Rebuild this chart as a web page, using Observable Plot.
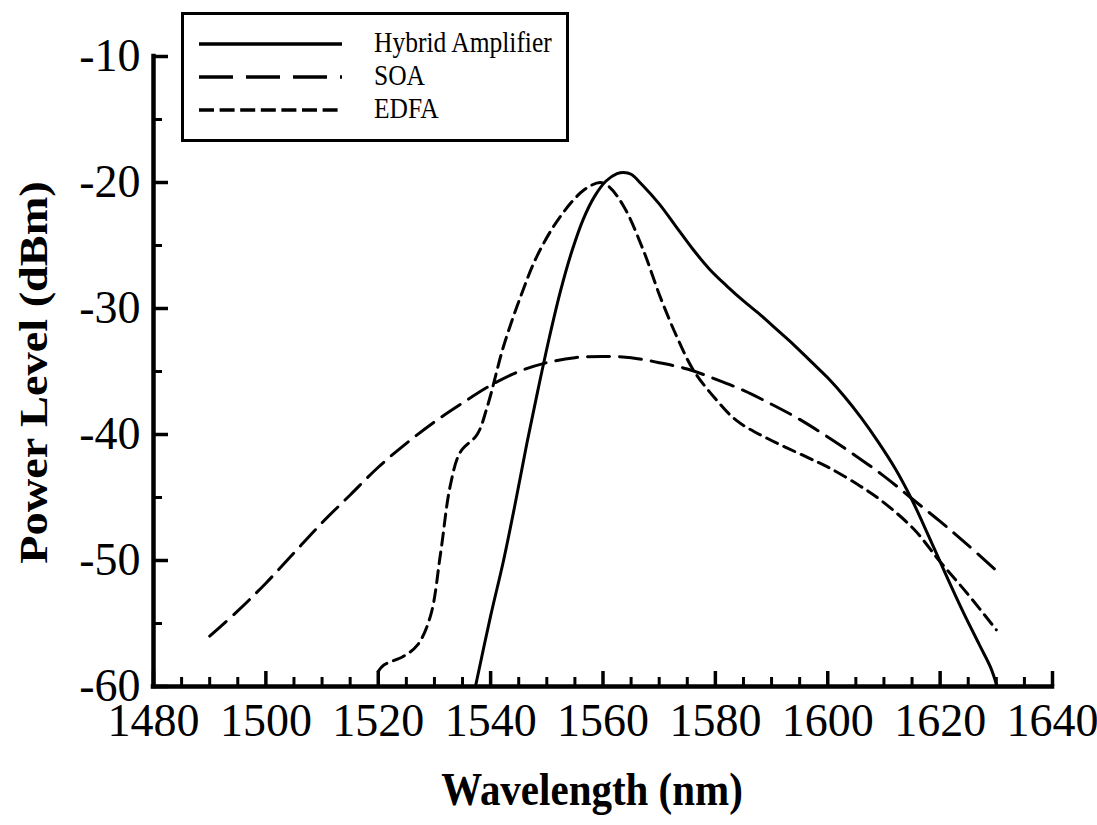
<!DOCTYPE html>
<html>
<head>
<meta charset="utf-8">
<script src="https://cdn.jsdelivr.net/npm/d3@7"></script>
<script src="https://cdn.jsdelivr.net/npm/@observablehq/plot@0.6"></script>
<style>
  body { margin: 0; background: #fff; }
  #wrap { position: relative; width: 1097px; height: 825px; }
  #legend { position: absolute; left: 181px; top: 12px; width: 382px; height: 124px;
            border: 3px solid #000; background: #fff; font-family: "Liberation Serif", serif; font-size: 25.5px; }
  #legend .row { position: absolute; left: 0; height: 30px; width: 100%; }
  #legend svg { position: absolute; left: 15px; top: 12px; }
  #legend span { position: absolute; left: 190px; top: -1px; line-height: 30px; white-space: nowrap;
                 display: inline-block; transform: scaleY(1.13); transform-origin: 50% 50%; }
</style>
</head>
<body>
<div id="wrap"></div>
<script>
// ---- data ----
const seriesNames = ["Hybrid Amplifier", "SOA", "EDFA"];

const hybridWl = [1537.3, 1540, 1542.3, 1544.5, 1546.5, 1548.5, 1550.5, 1552.5, 1554.5, 1556.5, 1558.5,
  1560.5, 1562.5, 1563.7, 1565, 1567, 1570, 1573, 1576, 1579, 1582, 1585, 1588, 1591, 1594, 1597,
  1600, 1603, 1606, 1609, 1612, 1615, 1618, 1621, 1624, 1627, 1629, 1630];
const hybridPower = [-60, -54.4, -50, -45.2, -40.6, -36.3, -32.2, -28.5, -25.4, -22.9, -21.1,
  -19.9, -19.3, -19.2, -19.35, -20.2, -21.7, -23.5, -25.3, -26.9, -28.2, -29.4, -30.5, -31.7, -32.9, -34.2,
  -35.5, -37.0, -38.7, -40.6, -42.7, -45.2, -48.1, -51.1, -54.0, -56.7, -58.5, -59.8];

const soaWl = [1490, 1495, 1500, 1505, 1510, 1515, 1520, 1525, 1530, 1535, 1540, 1545, 1550, 1555,
  1560, 1565, 1570, 1575, 1580, 1585, 1590, 1595, 1600, 1605, 1610, 1615, 1620, 1625, 1630];
const soaPower = [-56.0, -54.0, -51.8, -49.4, -47.0, -44.8, -42.6, -40.7, -39.0, -37.5, -36.1, -35.0, -34.3, -33.9,
  -33.8, -33.9, -34.3, -34.8, -35.6, -36.5, -37.6, -38.8, -40.2, -41.7, -43.3, -45.1, -46.9, -48.8, -50.8];

const edfaWl = [1520, 1521, 1524.5, 1527, 1529.3, 1531.1, 1532.8, 1534.6, 1537.6, 1539.4, 1542.3, 1545.3,
  1548.3, 1552.4, 1556.6, 1559.5, 1561, 1563.7, 1567.2, 1570.2, 1573.2, 1576.1, 1579.7, 1583.8,
  1589.2, 1596.3, 1600.5, 1605.8, 1609.4, 1615.3, 1620, 1624.8, 1630];
const edfaPower = [-58.8, -58.3, -57.6, -56.7, -54.4, -49.4, -44.1, -41.4, -40.0, -37.8, -33.0, -29.1,
  -25.8, -22.7, -20.6, -20.0, -20.3, -21.9, -25.4, -29.1, -32.3, -34.9, -37.0, -38.9,
  -40.3, -41.8, -42.7, -44.1, -45.2, -47.5, -50.1, -52.6, -55.5];

const xTicks = [1480, 1500, 1520, 1540, 1560, 1580, 1600, 1620, 1640];
const yTicks = [-60, -50, -40, -30, -20, -10];
const xLabel = "Wavelength (nm)";
const yLabel = "Power Level (dBm)";

// ---- presentation ----
const W = 1097, H = 825, mL = 153, mR = 45, mT = 56, mB = 139;
const plotW = W - mL - mR, plotH = H - mT - mB;
const dashes = [null, "22,10", "12,7"];
const legendDashes = [null, "34,13", "15,5.6"];
const xMinor = d3.range(1480, 1641, 5).filter(v => !xTicks.includes(v));
const yMinor = d3.range(-55, -10, 10);

const toRows = (xs, ys) => xs.map((x, i) => ({x, y: ys[i]}));
const series = [toRows(hybridWl, hybridPower), toRows(soaWl, soaPower), toRows(edfaWl, edfaPower)];

const svg = Plot.plot({
  width: W, height: H,
  marginLeft: mL, marginRight: mR, marginTop: mT, marginBottom: mB,
  style: {fontFamily: "'Liberation Serif', 'Times New Roman', serif", color: "#000", background: "#fff", overflow: "visible"},
  x: {domain: [1480, 1640]},
  y: {domain: [-60, -10]},
  marks: [
    ...series.map((d, i) => Plot.line(d, {x: "x", y: "y", curve: "catmull-rom", stroke: "#000",
      strokeWidth: 3, strokeDasharray: dashes[i]})),
    Plot.tickX(xMinor, {x: d => d, insetTop: plotH - 9, strokeWidth: 3, stroke: "#000"}),
    Plot.tickX(xTicks, {x: d => d, insetTop: plotH - 15, strokeWidth: 3.5, stroke: "#000"}),
    Plot.tickY(yMinor, {y: d => d, insetRight: plotW - 9, strokeWidth: 3, stroke: "#000"}),
    Plot.tickY(yTicks, {y: d => d, insetRight: plotW - 15, strokeWidth: 3.5, stroke: "#000"}),
    Plot.ruleX([1480], {strokeWidth: 4.5, stroke: "#000", strokeLinecap: "square"}),
    Plot.ruleY([-60], {strokeWidth: 4.5, stroke: "#000", strokeLinecap: "square"}),
    Plot.axisX(xTicks, {tickSize: 0, tickPadding: 17, fontSize: 46, label: null, tickFormat: d => `${d}`}),
    Plot.axisY(yTicks, {tickSize: 0, tickPadding: 13, fontSize: 46, label: null, tickFormat: d => `${d}`}),
    Plot.text([xLabel], {text: d => d, frameAnchor: "bottom", textAnchor: "middle", dx: -11, dy: 118,
      fontSize: 41, fontWeight: "bold"}),
    Plot.text([yLabel], {text: d => d, frameAnchor: "left", textAnchor: "middle", lineAnchor: "middle",
      dx: -120, dy: 1, rotate: -90, fontSize: 41, fontWeight: "bold"})
  ]
});

// the reference's title glyphs are stretched vertically
const SY = 1.13;
d3.select(svg).selectAll('g[aria-label="text"] text').each(function () {
  const t = this.getAttribute("transform");
  if (t) {
    this.setAttribute("transform", t + (t.includes("rotate") ? ` scale(${SY},1)` : ` scale(1,${SY})`));
  } else {
    const x = +this.getAttribute("x") || 0, y = +this.getAttribute("y") || 0;
    this.setAttribute("transform", `translate(${x},${y}) scale(1,${SY}) translate(${-x},${-y})`);
  }
});

const wrap = document.getElementById("wrap");
wrap.appendChild(svg);

// legend
const legend = document.createElement("div");
legend.id = "legend";
const rowTops = [14, 47, 80];
seriesNames.forEach((name, i) => {
  const row = document.createElement("div");
  row.className = "row";
  row.style.top = rowTops[i] + "px";
  row.innerHTML = `<svg width="143" height="6"><line x1="0" x2="143" y1="3" y2="3" stroke="#000" stroke-width="3.5"
     ${legendDashes[i] ? `stroke-dasharray="${legendDashes[i]}"` : ""}/></svg><span>${name}</span>`;
  legend.appendChild(row);
});
wrap.appendChild(legend);
</script>
</body>
</html>
